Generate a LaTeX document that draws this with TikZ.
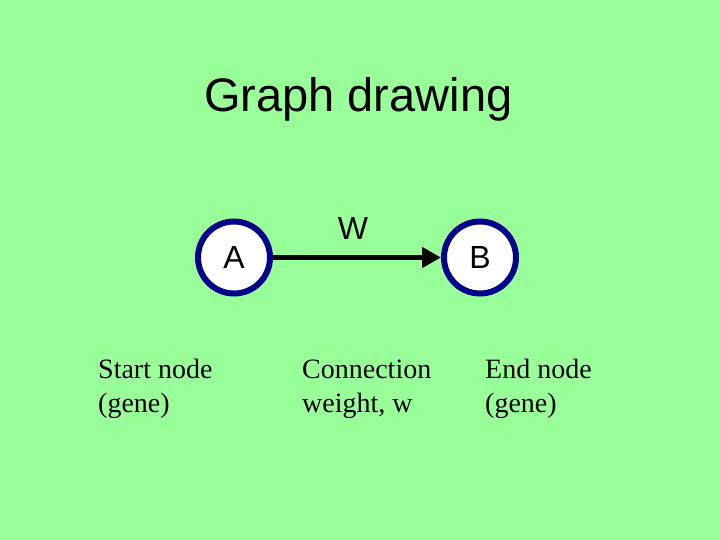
\documentclass[tikz,border=0pt]{standalone}
\usepackage{fontspec}
\setmainfont{Liberation Serif}
\newfontfamily\arialf{Liberation Sans}
\usetikzlibrary{arrows.meta}
\definecolor{bggreen}{RGB}{153,255,153}
\definecolor{ringblue}{RGB}{0,0,140}
\tikzset{
  gnode/.style={circle, draw=ringblue, line width=6pt, fill=white, minimum size=72pt, inner sep=0pt,
    font=\arialf\fontsize{32}{36}\selectfont},
  caption/.style={anchor=base west, inner sep=0pt, align=left, font=\fontsize{28}{34}\selectfont},
  link/.style={line width=5.5pt, -{Triangle[length=19pt,width=20pt]}},
}
\begin{document}
\begin{tikzpicture}[x=1pt,y=-1pt]
\fill[bggreen] (0,0) rectangle (720,540);
\useasboundingbox (0,0) rectangle (720,540);
\node[anchor=base west, inner sep=0pt, font=\arialf\fontsize{47}{52}\selectfont] (title) at (204,112) {Graph drawing};
\node[gnode] (A) at (234,257.5) {A};
\node[gnode] (B) at (480,257.5) {B};
\draw[link] (A) -- (B);
\node[inner sep=0pt, font=\arialf\fontsize{32}{36}\selectfont] (w) at (353,228.5) {W};
\node[caption] (c1) at (98,412) {Start node\\(gene)};
\node[caption] (c2) at (302,412) {Connection\\weight, w};
\node[caption] (c3) at (485,412) {End node\\(gene)};
\end{tikzpicture}
\end{document}
